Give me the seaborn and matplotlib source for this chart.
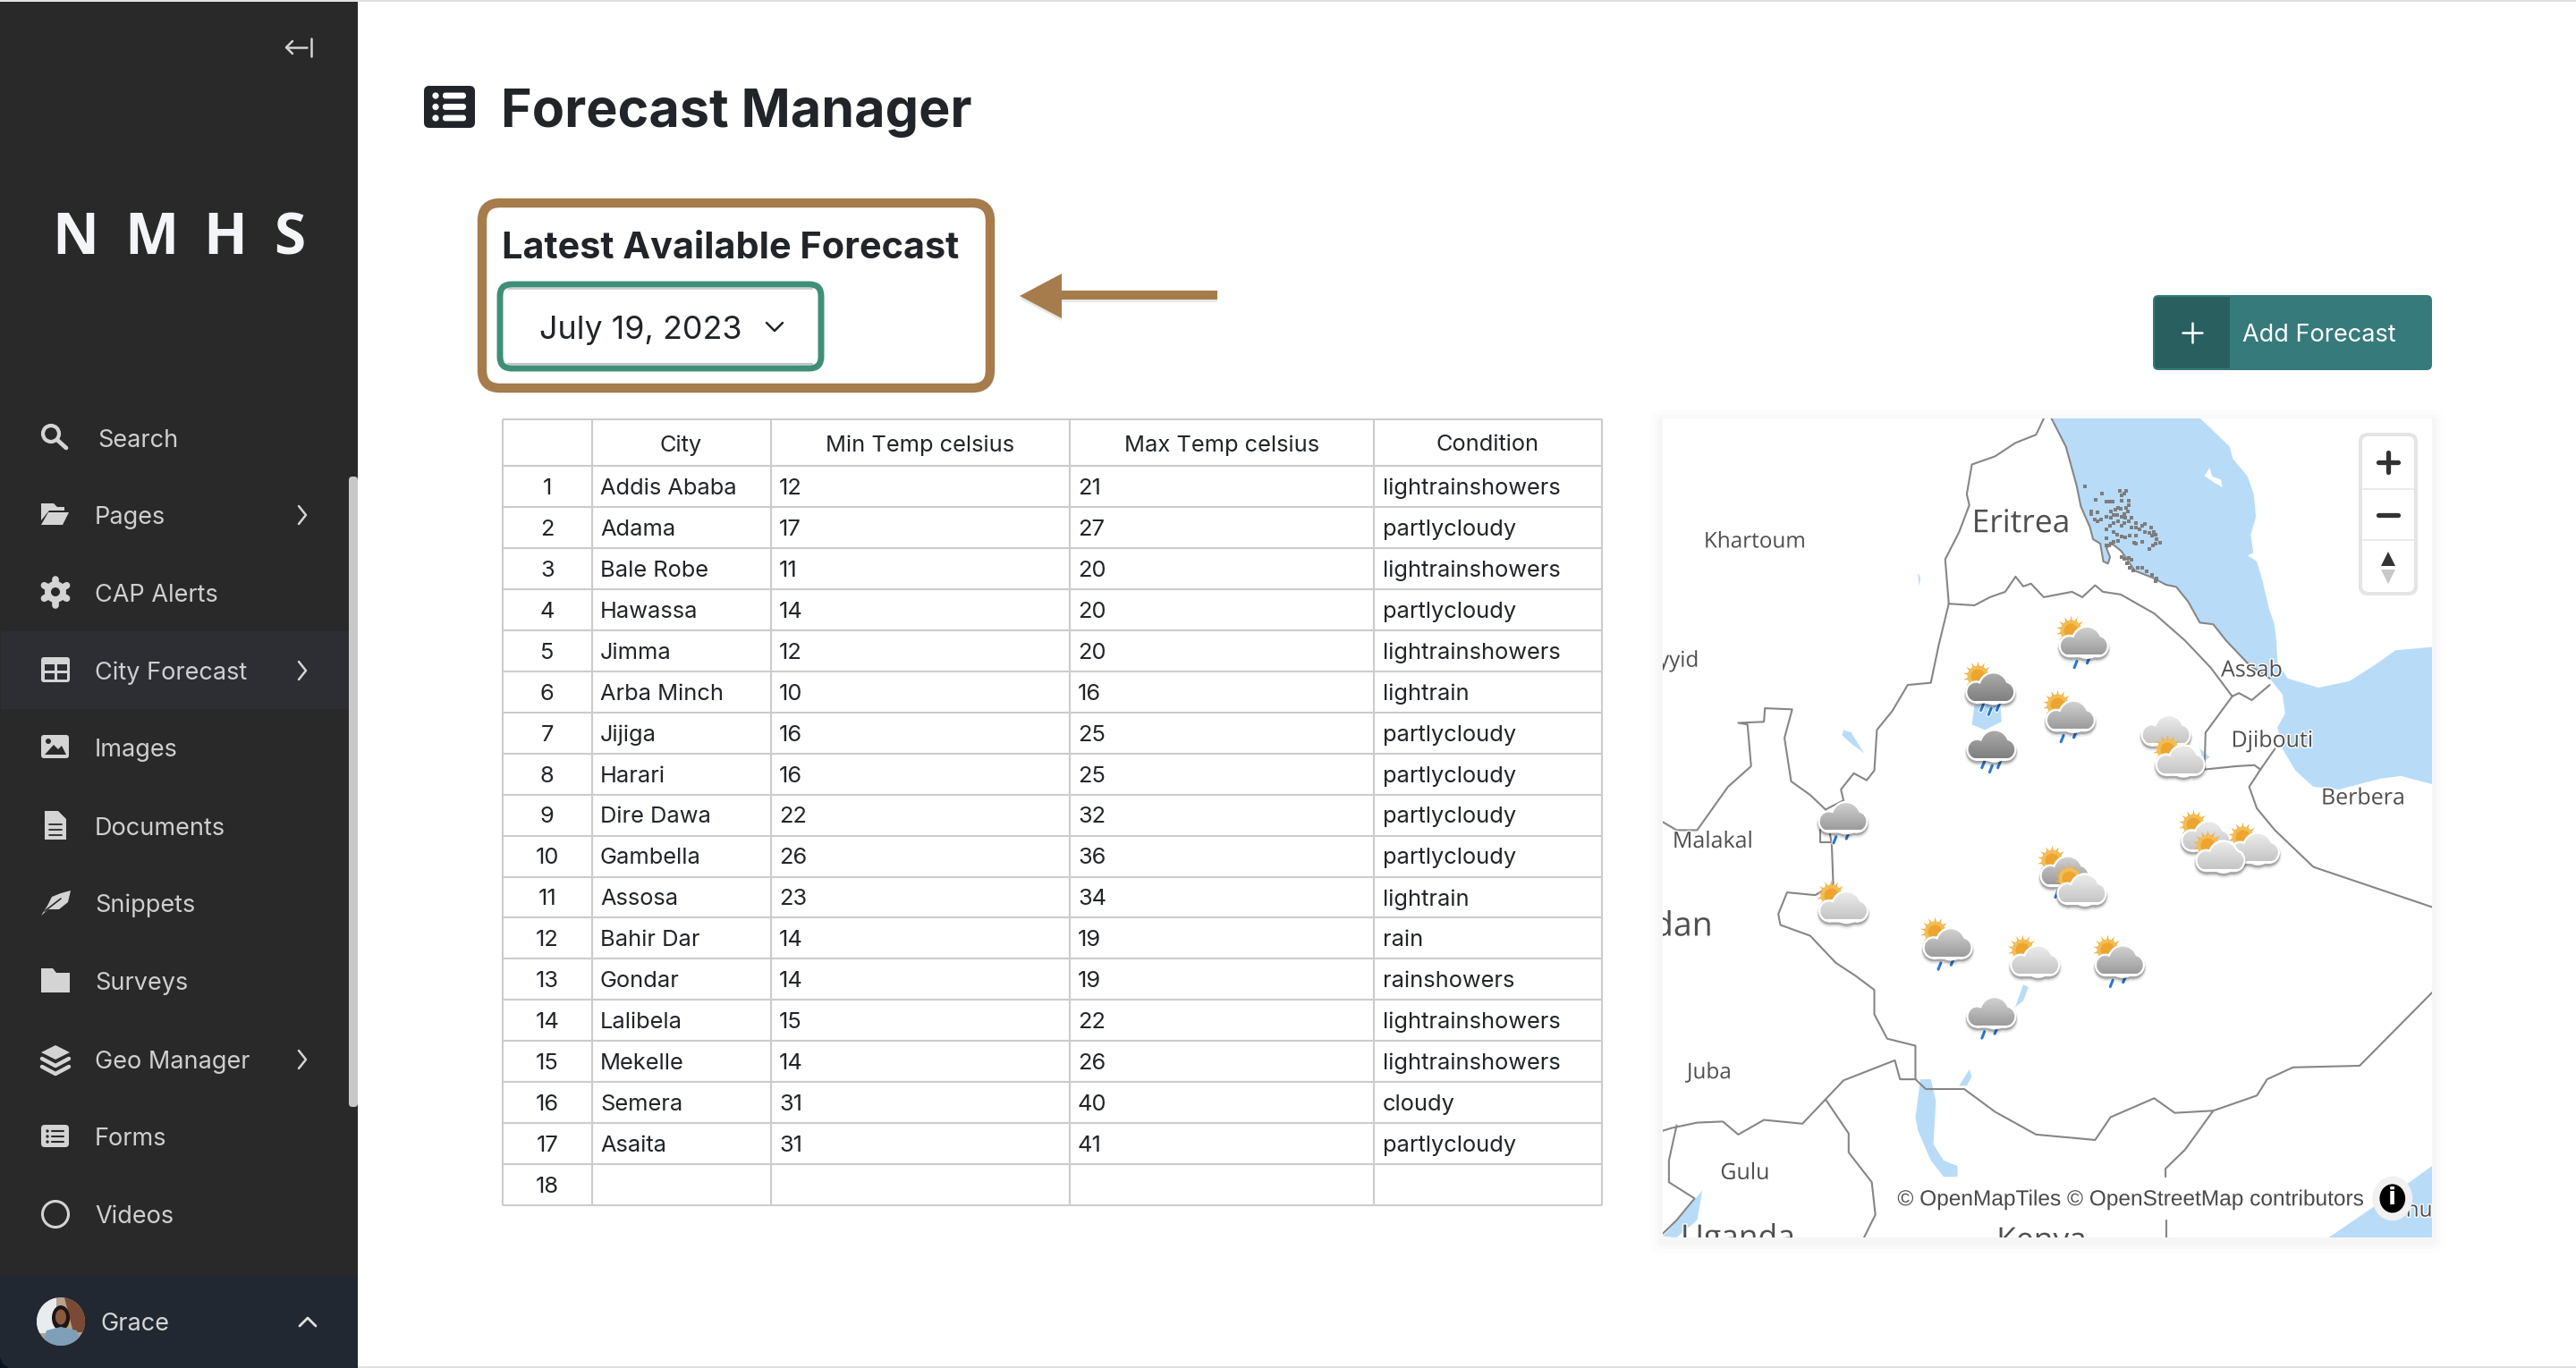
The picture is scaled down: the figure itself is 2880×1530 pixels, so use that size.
import numpy as np
import pandas as pd
import matplotlib
matplotlib.use("Agg")
import matplotlib.pyplot as plt
import matplotlib.patheffects as pe
from matplotlib.patches import Rectangle, FancyBboxPatch, Circle, Polygon, PathPatch, Ellipse
from matplotlib.path import Path
import seaborn as sns

# ---------- data ----------
ROW_IDS = list(range(1, 19))
CITIES = ["Addis Ababa", "Adama", "Bale Robe", "Hawassa", "Jimma", "Arba Minch", "Jijiga", "Harari",
          "Dire Dawa", "Gambella", "Assosa", "Bahir Dar", "Gondar", "Lalibela", "Mekelle", "Semera", "Asaita", ""]
MIN_TEMPS = [12, 17, 11, 14, 12, 10, 16, 16, 22, 26, 23, 14, 14, 15, 14, 31, 31, ""]
MAX_TEMPS = [21, 27, 20, 20, 20, 16, 25, 25, 32, 36, 34, 19, 19, 22, 26, 40, 41, ""]
CONDITIONS = ["lightrainshowers", "partlycloudy", "lightrainshowers", "partlycloudy", "lightrainshowers",
              "lightrain", "partlycloudy", "partlycloudy", "partlycloudy", "partlycloudy", "lightrain", "rain",
              "rainshowers", "lightrainshowers", "lightrainshowers", "cloudy", "partlycloudy", ""]
HEADERS = ["", "City", "Min Temp celsius", "Max Temp celsius", "Condition"]
NAV_ITEMS = ["Search", "Pages", "CAP Alerts", "City Forecast", "Images", "Documents", "Snippets",
             "Surveys", "Geo Manager", "Forms", "Videos"]
NAV_Y = [490, 576, 663, 750, 836, 924, 1010, 1097, 1185, 1271, 1358]
NAV_CHEVRON = ["Pages", "City Forecast", "Geo Manager"]

# map outlines (map panel units)
COAST = [(790,30),(818,82),(839,154),(847,192),(865,231),(871,253),(885,261),(891,294),(900,298),(904,286),(897,269),(908,261),(926,275),(952,311),(987,324),(1013,337),(1033,341),(1056,368),(1079,407),(1105,410),(1130,440),(1175,485),(1215,510)]
BORDERS = [
    [(775,30),(760,60),(720,75),(680,100),(635,115),(625,170),(630,190),(610,240),(583,290),(590,372)],
    [(590,372),(640,375),(670,360),(700,350),(720,322),(735,340),(750,335),(775,360),(830,350),(850,360),(875,338),(890,350),(925,355),(990,390),(1050,440),(1100,490),(1142,543)],
    [(590,372),(570,450),(555,518),(510,522),(480,570),(450,605),(445,680),(430,698),(405,685),(380,715),(385,735),(350,752),(362,815),(365,890),(330,910),(275,905),(258,945),(262,965),(320,985),(370,1035),(410,1060),(445,1085),(445,1130),(470,1175),(525,1188),(525,1250),(545,1268),(620,1268),(680,1310),(760,1352),(875,1362),(905,1320),(990,1285),(1030,1312),(1105,1308),(1190,1280),(1210,1250),(1260,1228),(1390,1225),(1531,1090)],
    [(33,775),(60,790),(100,790),(160,710),(205,672),(198,595),(180,592),(230,590),(232,565),(285,567),(270,620),(283,700),(320,725),(350,752)],
    [(340,790),(340,812),(365,812)],
    [(1088,678),(1150,672),(1185,670),(1197,678),(1225,640)],
    [(1197,678),(1175,710),(1190,750),(1225,790),(1300,858),(1531,932)],
    [(1142,543),(1090,610),(1088,678)],
    [(1142,543),(1155,537),(1180,550),(1215,522)],
    [(33,1345),(50,1340),(100,1330),(150,1328),(180,1352),(230,1325),(305,1332),(350,1287),(385,1252),(485,1215),(495,1250),(525,1250)],
    [(350,1287),(395,1350),(395,1385),(440,1440),(447,1500),(425,1542)],
    [(60,1335),(45,1400),(45,1440),(95,1470),(60,1510),(33,1535)],
    [(1105,1308),(1050,1380),(1012,1415),(1012,1430)],
    [(1014,1510),(1014,1542)],
    COAST,
]
SEA_EAST = [(1215,510),(1240,540),(1245,575),(1230,600),(1240,640),(1265,680),(1300,710),(1350,715),(1430,695),(1470,690),(1531,705),(1531,452),(1460,458),(1420,485),(1370,515),(1310,527),(1250,510),(1230,480),(1228,440),(1224,410),(1213,379),(1201,330),(1190,294),(1172,283),(1183,278),(1178,245),(1188,212),(1184,170),(1172,137),(1143,104),(1137,82),(1080,30)]
LAKES = [
    [(535,1250),(555,1250),(565,1290),(560,1370),(580,1400),(607,1410),(607,1430),(580,1430),(555,1400),(530,1345),(525,1320)],
    [(640,560),(690,555),(693,590),(660,605),(635,595)],
    [(720,1115),(735,1075),(745,1080),(735,1105),(715,1120)],
    [(610,1262),(630,1232),(635,1245),(625,1262)],
    [(385,605),(400,610),(425,648),(400,630),(382,615)],
    [(530,315),(535,325),(532,340)],
    [(33,1540),(80,1490),(110,1455),(100,1510),(60,1542)],
    [(1330,1542),(1480,1445),(1531,1410),(1531,1542)],
    [(1075,620),(1080,640),(1098,655),(1085,665)],
]
WHITE_ISLES = [[(1088,136),(1098,121),(1103,137),(1120,143),(1123,157),(1106,148)]]
ISLE_X = [855,888,876,897,902,910,923,932,936,927,926,940,940,936,938,932,920,914,924,905,867,868,879,886,875,880,897,905,911,917,926,933,945,920,932,940,954,904,911,926,945,954,966,972,962,984,972,981,990,992,985,897,911,917,926,934,943,955,966,955,951,995,1001,992,988,981,897,905,897,902,911,919,926,932,940,946,937,943,949,958,966,975,985,995,992]
ISLE_Y = [156,168,180,184,183,183,163,168,163,172,182,182,190,195,201,206,195,198,197,201,201,206,203,217,217,220,212,214,208,208,212,214,214,220,223,220,223,228,223,228,231,232,228,224,234,232,239,242,239,245,246,234,239,245,248,250,247,247,258,261,259,253,259,261,265,271,252,261,264,265,258,256,286,289,287,291,297,305,311,305,305,313,319,325,330]

MAP_LABELS = [("Khartoum",113,255,"left",17.5),("Eritrea",635,220,"left",25.5),("yyid",103,475,"right",17.5),
              ("Malakal",52,808,"left",18),("dan",130,963,"right",27),("Juba",80,1235,"left",17.5),
              ("Gulu",145,1420,"left",18),("Uganda",68,1540,"left",25.5),("Kenya",683,1545,"left",25.5),
              ("Assab",1120,492,"left",18),("Djibouti",1140,622,"left",18),("Berbera",1315,728,"left",18),
              ("nu",1480,1490,"left",17.5)]

# x, y, cloud tone, sun, number of rain drops (draw order)
ICON_X = [852,670,672,826,1012,1040,383,384,1090,1185,1118,815,848,587,757,922,672]
ICON_Y = [441,526,632,578,605,660,765,930,800,822,837,865,898,998,1030,1030,1125]
ICON_TONE = ["mid","dark","dark","mid","light","light","mid","light","light","light","light","mid","light","mid","light","mid","mid"]
ICON_SUN = [1,1,0,1,0,1,0,1,1,1,1,1,1,1,1,1,0]
ICON_RAIN = [2,3,3,2,0,0,2,0,0,0,0,2,0,2,0,2,2]
TONES = {"light": ("#eeeeee", "#c6c6c6"), "mid": ("#d4d4d4", "#9c9c9c"), "dark": ("#adadad", "#808080")}

# ---------- canvas ----------
sns.set_theme(style="white")
plt.rcParams["font.family"] = ["Inter", "Roboto", "DejaVu Sans"]
fig = plt.figure(figsize=(28.8, 15.3), dpi=100, facecolor="white")
ax = fig.add_axes([0, 0, 1, 1], zorder=0)
ax.set_xlim(0, 2880); ax.set_ylim(1530, 0); ax.set_axis_off()

DARK = "#212529"
def T(x, y, s, size, color=DARK, ha="left", weight="normal", family=None, **kw):
    if family:
        kw["family"] = family
    return ax.text(x, y + 0.13 * size, s, fontsize=size, color=color, ha=ha, va="center", weight=weight, **kw)

def box(a, x0, y0, x1, y1, r, fc="none", ec="none", lw=0, z=2, alpha=None):
    p = FancyBboxPatch((x0 + r, y0 + r), x1 - x0 - 2*r, y1 - y0 - 2*r, boxstyle=f"round,pad={r},rounding_size={r}",
                       fc=fc, ec=ec, lw=lw, zorder=z, alpha=alpha)
    a.add_patch(p)
    return p

def stroke(pts, color, lw=2.0, z=5, a=None):
    a = a or ax
    xs, ys = zip(*pts)
    a.plot(xs, ys, color=color, lw=lw, zorder=z, solid_capstyle="round", solid_joinstyle="round")

# ---------- sidebar ----------
SIDE = "#292929"; ICON = "#d4d4d4"; NAVTXT = "#cfcfcf"; HILITE = "#2d2e33"
ax.add_patch(Rectangle((0, 0), 400, 1530, fc=SIDE, ec="none", zorder=1))
ax.add_patch(Rectangle((1, 706), 389, 87, fc=HILITE, ec="none", zorder=1.2))
ax.add_patch(Rectangle((0, 1427), 400, 103, fc="#222831", ec="none", zorder=1.3))
box(ax, 390, 533, 400, 1238, 4, fc="#c9c9c9", z=1.5)
ax.add_patch(Rectangle((400, 0), 2480, 2, fc="#e2e2e2", ec="none", zorder=1))
ax.add_patch(Rectangle((0, 0), 400, 2, fc="#e2e2e2", ec="none", zorder=3))
ax.add_patch(Rectangle((400, 1528), 2480, 2, fc="#e2e2e2", ec="none", zorder=1))
ax.add_patch(Polygon([(0, 1518), (3, 1525), (10, 1530), (0, 1530)], fc="#0a1420", ec="none", zorder=3))

stroke([(348, 43), (348, 63)], ICON, 1.8)
stroke([(343, 53), (320, 53)], ICON, 1.8)
stroke([(327, 46), (320, 53), (327, 60)], ICON, 1.8)

for ch, xc in zip("NMHS", [84, 169, 252, 324]):
    T(xc, 262, ch, 46, color="#f4f5f8", ha="center", weight="bold", family="Open Sans")

for name, y in zip(NAV_ITEMS, NAV_Y):
    T(109 if name == "Search" else 106, y, name, 19.5, color=NAVTXT, zorder=5)
    if name in NAV_CHEVRON:
        stroke([(334, y - 10), (342, y), (334, y + 10)], ICON, 1.8)

def nav_icons():
    c = ICON
    y = NAV_Y[0]
    ax.add_patch(Circle((57, y - 5), 9, fc="none", ec=c, lw=3, zorder=5)); stroke([(64, y + 2), (74, y + 11)], c, 3.4)
    y = NAV_Y[1]
    ax.add_patch(Polygon([(46, y - 13), (60, y - 13), (64, y - 9), (72, y - 9), (72, y - 5), (55, y - 5), (46, y + 6)], fc=c, ec="none", zorder=5))
    ax.add_patch(Polygon([(54, y - 3), (77, y - 3), (70, y + 11), (46, y + 11)], fc=c, ec="none", zorder=5))
    y = NAV_Y[2]
    for ang in np.arange(0, 180, 60):
        dx, dy = 14.5 * np.sin(np.radians(ang)), 14.5 * np.cos(np.radians(ang))
        stroke([(62 - dx, y - 1 - dy), (62 + dx, y - 1 + dy)], c, 5.5)
    ax.add_patch(Circle((62, y - 1), 12, fc=c, ec="none", zorder=5))
    ax.add_patch(Circle((62, y - 1), 5, fc=SIDE, ec="none", zorder=6))
    y = NAV_Y[3]
    box(ax, 46, y - 15, 78, y + 13, 3, fc=c, z=5)
    for rx, ry in [(50, y-7), (64, y-7), (50, y+3), (64, y+3)]:
        ax.add_patch(Rectangle((rx, ry), 11, 6.5, fc=HILITE, ec="none", zorder=6))
    y = NAV_Y[4]
    box(ax, 46, y - 14, 77, y + 12, 3, fc=c, z=5)
    ax.add_patch(Polygon([(50, y + 8), (60, y - 3), (65, y + 2), (69, y - 2), (74, y + 8)], fc=SIDE, ec="none", zorder=6))
    ax.add_patch(Circle((54, y - 7), 3, fc=SIDE, ec="none", zorder=6))
    y = NAV_Y[5]
    ax.add_patch(Polygon([(50, y - 17), (65, y - 17), (74, y - 8), (74, y + 15), (50, y + 15)], fc=c, ec="none", zorder=5))
    for dy in (-2, 4, 10):
        stroke([(55, y + dy), (69, y + dy)], SIDE, 1.3, z=6)
    y = NAV_Y[6]
    ax.add_patch(Polygon([(46, y + 14), (53, y + 3), (58, y - 7), (68, y - 11), (79, y - 14), (76, y - 1), (66, y + 7), (54, y + 7)], fc=c, ec="none", zorder=5))
    stroke([(50, y + 9), (68, y - 5)], SIDE, 1.2, z=6)
    y = NAV_Y[7]
    ax.add_patch(Polygon([(46, y - 14), (59, y - 14), (63, y - 9), (78, y - 9), (78, y + 13), (46, y + 13)], fc=c, ec="none", zorder=5))
    y = NAV_Y[8]
    ax.add_patch(Polygon([(62, y - 16), (78, y - 8), (62, y + 0), (46, y - 8)], fc=c, ec="none", zorder=5))
    stroke([(47, y - 1), (62, y + 7), (77, y - 1)], c, 3.2)
    stroke([(47, y + 8), (62, y + 16), (77, y + 8)], c, 3.2)
    y = NAV_Y[9]
    box(ax, 46, y - 13, 77, y + 12, 4, fc=c, z=5)
    for dy in (-6, 0, 6):
        ax.add_patch(Circle((53, y + dy), 1.7, fc=SIDE, ec="none", zorder=6))
        stroke([(58, y + dy), (71, y + dy)], SIDE, 1.5, z=6)
    y = NAV_Y[10]
    ax.add_patch(Circle((62, y), 14.5, fc="none", ec=c, lw=2.2, zorder=5))
nav_icons()

# user row
face = Circle((68, 1478), 27, fc="#b7a28c", ec="none", zorder=5); ax.add_patch(face)
parts = [Rectangle((41, 1451), 22, 40, fc="#e9ecef"), Polygon([(72, 1451), (95, 1451), (95, 1490), (82, 1490)], fc="#7a4a35"),
         Ellipse((68, 1474), 20, 28, fc="#1e1614"), Ellipse((68, 1473), 12, 17, fc="#8a5a40"),
         Polygon([(47, 1505), (52, 1488), (68, 1484), (86, 1488), (90, 1505)], fc="#7f9fb8")]
for p in parts:
    p.set_edgecolor("none"); p.set_zorder(6); ax.add_patch(p); p.set_clip_path(face)
T(112, 1478, "Grace", 19.5, color="#d4d6d8", zorder=5)
stroke([(335, 1483), (344, 1474), (353, 1483)], "#e0e0e0", 2.0)

# ---------- header ----------
box(ax, 474, 96, 531, 143, 6, fc=DARK, z=3)
for yy in (107, 119.5, 132):
    ax.add_patch(Circle((487, yy), 3.6, fc="white", ec="none", zorder=4))
    box(ax, 495, yy - 3.4, 521, yy + 3.4, 3, fc="white", z=4)
T(560, 121, "Forecast Manager", 42.6, weight="bold")

# latest forecast callout
BROWN = "#a67c4c"
box(ax, 537, 231, 1109, 438, 22, fc="#00000030", z=2.5)
box(ax, 539, 227, 1107, 434, 20, fc="white", ec=BROWN, lw=7.5, z=3)
T(561, 274, "Latest Available Forecast", 29.8, weight="bold", zorder=5)
box(ax, 559, 318, 918, 412, 13, fc="white", ec="#3f8f78", lw=5, z=4)
stroke([(568, 407), (908, 407)], "#c4c4c4", 1.6, z=5)
stroke([(568, 323), (908, 323)], "#c4c4c4", 1.2, z=5)
T(603, 366, "July 19, 2023", 25.8, zorder=6)
stroke([(857, 361), (866, 370), (875, 361)], DARK, 1.8, z=6)

ax.add_patch(Polygon([(1140, 334), (1187, 309), (1187, 328), (1361, 328), (1361, 338), (1187, 338), (1187, 359)],
                     fc="#00000018", ec="none", zorder=2.5))
ax.add_patch(Polygon([(1140, 331), (1187, 306), (1187, 325), (1361, 325), (1361, 335), (1187, 335), (1187, 356)],
                     fc=BROWN, ec="none", zorder=3))

# add forecast button
box(ax, 2407, 330, 2719, 414, 6, fc="#367a7c", z=3)
box(ax, 2409, 332, 2493, 412, 4, fc="#2a5f60", z=4)
ax.add_patch(Rectangle((2470, 332), 23, 80, fc="#2a5f60", ec="none", zorder=4))
stroke([(2451, 361), (2451, 383)], "white", 1.8, z=5)
stroke([(2440, 372), (2462, 372)], "white", 1.8, z=5)
T(2507, 372, "Add Forecast", 19.5, color="white", zorder=5)

# ---------- table ----------
COL_X = [562, 661.5, 861.5, 1195.5, 1536, 1790.5]
ROW_H = 45.95
TOP = 469; HEAD_BOTTOM = 521
n = len(ROW_IDS)
bottom = HEAD_BOTTOM + n * ROW_H
GRID = "#cccccc"
ax.vlines(COL_X, TOP, bottom, color=GRID, lw=1.5, zorder=3)
ax.hlines([TOP] + [HEAD_BOTTOM + i * ROW_H for i in range(n + 1)], COL_X[0], COL_X[-1], color=GRID, lw=1.5, zorder=3)
table = pd.DataFrame({"row": ROW_IDS, "city": CITIES, "min": MIN_TEMPS, "max": MAX_TEMPS, "cond": CONDITIONS})
TS = 18.3
for i, h in enumerate(HEADERS):
    T((COL_X[i] + COL_X[i + 1]) / 2, 495.5, h, TS, ha="center", zorder=4)
for i, r in table.iterrows():
    y = HEAD_BOTTOM + (i + 0.5) * ROW_H
    T((COL_X[0] + COL_X[1]) / 2, y, str(r["row"]), TS, ha="center", zorder=4)
    for j, k in enumerate(["city", "min", "max", "cond"]):
        T(COL_X[j + 1] + 9.5, y, str(r[k]), TS, zorder=4)

# ---------- map ----------
MX0, MX1, MY0, MY1 = 1859, 2719, 468, 1384
for g, al in zip((14, 9, 5), (0.008, 0.01, 0.014)):
    box(ax, MX0 - g, MY0 - g + 4, MX1 + g, MY1 + g + 4, g, fc="#000000", z=1.6, alpha=al)
ax.add_patch(Rectangle((MX0, MY0), MX1 - MX0, MY1 - MY0, fc="white", ec="none", zorder=1.7))
m = fig.add_axes([MX0 / 2880, 1 - MY1 / 1530, (MX1 - MX0) / 2880, (MY1 - MY0) / 1530], zorder=1)
m.set_axis_off()
WATER = "#b8dcf8"; LINE = "#868686"
m.add_patch(Polygon(COAST + SEA_EAST, fc=WATER, ec="none", zorder=1))
for lk in LAKES:
    m.add_patch(Polygon(lk, fc=WATER, ec="none", zorder=1))
for wi in WHITE_ISLES:
    m.add_patch(Polygon(wi, fc="white", ec="none", zorder=1.1))
for i, b in enumerate(BORDERS):
    df = pd.DataFrame(b, columns=["x", "y"])
    sns.lineplot(data=df, x="x", y="y", sort=False, estimator=None, color=LINE, lw=1.5, ax=m, legend=False, zorder=2)
sns.scatterplot(x=ISLE_X, y=ISLE_Y, s=5, marker="s", color="#7d7d7d", linewidth=0, ax=m, legend=False, zorder=2)
for s, x, y, ha, fs in MAP_LABELS:
    t = m.text(x, y + 0.2 * fs, s, fontsize=fs, color="#4f4f4f", ha=ha, va="center", family="Open Sans", clip_on=True, zorder=3)
    t.set_path_effects([pe.withStroke(linewidth=2, foreground="white")])

def cloud_path(cx, cy, grow=0.0, dy=0.0):
    parts_ = [Path.circle((cx + 7, cy + 2 + dy), 28 + grow), Path.circle((cx - 27, cy + 9 + dy), 18 + grow),
              Path.circle((cx + 29, cy + 9 + dy), 18 + grow),
              Path.unit_rectangle().transformed(matplotlib.transforms.Affine2D().scale(56, 18 + grow).translate(cx - 27, cy + 9 + dy))]
    return Path.make_compound_path(*parts_)

z = 10.0
for cx, cy, tone, sun, rain in zip(ICON_X, ICON_Y, ICON_TONE, ICON_SUN, ICON_RAIN):
    if sun:
        sx, sy = [cx - 24], [cy - 20]
        sns.scatterplot(x=sx, y=sy, s=600, marker=(14, 1, 0), color="#eeaf42", linewidth=0, ax=m, legend=False, zorder=z)
        sns.scatterplot(x=sx, y=sy, s=300, marker="o", color="#f3bd55", linewidth=0, ax=m, legend=False, zorder=z + 0.05)
        sns.scatterplot(x=sx, y=sy, s=130, marker="o", color="#eda530", linewidth=0, ax=m, legend=False, zorder=z + 0.1)
    for g_, dy_s, a_s in [(6, 6, "#00000012"), (4, 5, "#00000020"), (3, 4, "#00000030")]:
        m.add_patch(PathPatch(cloud_path(cx, cy, g_, dy_s), fc=a_s, ec="none", zorder=z + 0.2))
    m.add_patch(PathPatch(cloud_path(cx, cy, 3), fc="white", ec="none", zorder=z + 0.3))
    top, bot = TONES[tone]
    c0, c1 = np.array(matplotlib.colors.to_rgb(top)), np.array(matplotlib.colors.to_rgb(bot))
    grad = np.linspace(0, 1, 40)[:, None, None] * (c1 - c0) + c0
    im = m.imshow(grad, extent=(cx - 50, cx + 50, cy + 25, cy - 28), aspect="auto", zorder=z + 0.4, interpolation="bilinear")
    im.set_clip_path(PathPatch(cloud_path(cx, cy, -1), transform=m.transData))
    drops = {2: [(-15, 43), (10, 35)], 3: [(-15, 37), (0, 45), (16, 37)]}.get(rain, [])
    for dx, dy_ in drops:
        xs_, ys_ = [cx + dx - 2.5, cx + dx + 2.5], [cy + dy_ + 6, cy + dy_ - 6]
        m.plot(xs_, ys_, color="white", lw=3.6, solid_capstyle="round", zorder=z + 0.08)
        m.plot(xs_, ys_, color="#2a78d0", lw=2.2, solid_capstyle="round", zorder=z + 0.1)
    z += 1

# attribution
m.text(490, 1473, "\u00a9 OpenMapTiles \u00a9 OpenStreetMap contributors", fontsize=17.6, color="#4a4a4a", va="center", family="Liberation Sans",
       zorder=40, path_effects=[pe.withStroke(linewidth=3, foreground="white")])
m.add_patch(Ellipse((1454, 1470), 78, 82, fc="#f1f1f1", ec="none", zorder=40))
m.add_patch(Ellipse((1454, 1470), 50, 53, fc="black", ec="none", zorder=41))
m.text(1454, 1470, "i", color="white", fontsize=19, weight="bold", ha="center", va="center", family="DejaVu Sans", zorder=42)
m.set_xlim(33, 1531); m.set_ylim(1542, 30)

# zoom controls on an overlay
top_ax = fig.add_axes([0, 0, 1, 1], zorder=2)
top_ax.set_xlim(0, 2880); top_ax.set_ylim(1530, 0); top_ax.set_axis_off()
box(top_ax, 2637, 484, 2703, 666, 10, fc="#e5e5e5", z=2)
box(top_ax, 2641, 488, 2699, 662, 7, fc="white", z=3)
top_ax.hlines([547, 604], 2641, 2699, color="#e5e5e5", lw=1.1, zorder=4)
stroke([(2659, 517), (2681, 517)], "#333333", 3.8, z=5, a=top_ax)
stroke([(2670, 506), (2670, 528)], "#333333", 3.8, z=5, a=top_ax)
stroke([(2659, 576), (2681, 576)], "#333333", 3.8, z=5, a=top_ax)
top_ax.add_patch(Polygon([(2670, 617), (2662, 633), (2678, 633)], fc="#333333", ec="none", zorder=5))
top_ax.add_patch(Polygon([(2670, 653), (2662, 637), (2678, 637)], fc="#c8c8c8", ec="none", zorder=5))

fig.savefig("out.png", dpi=100, facecolor="white")
